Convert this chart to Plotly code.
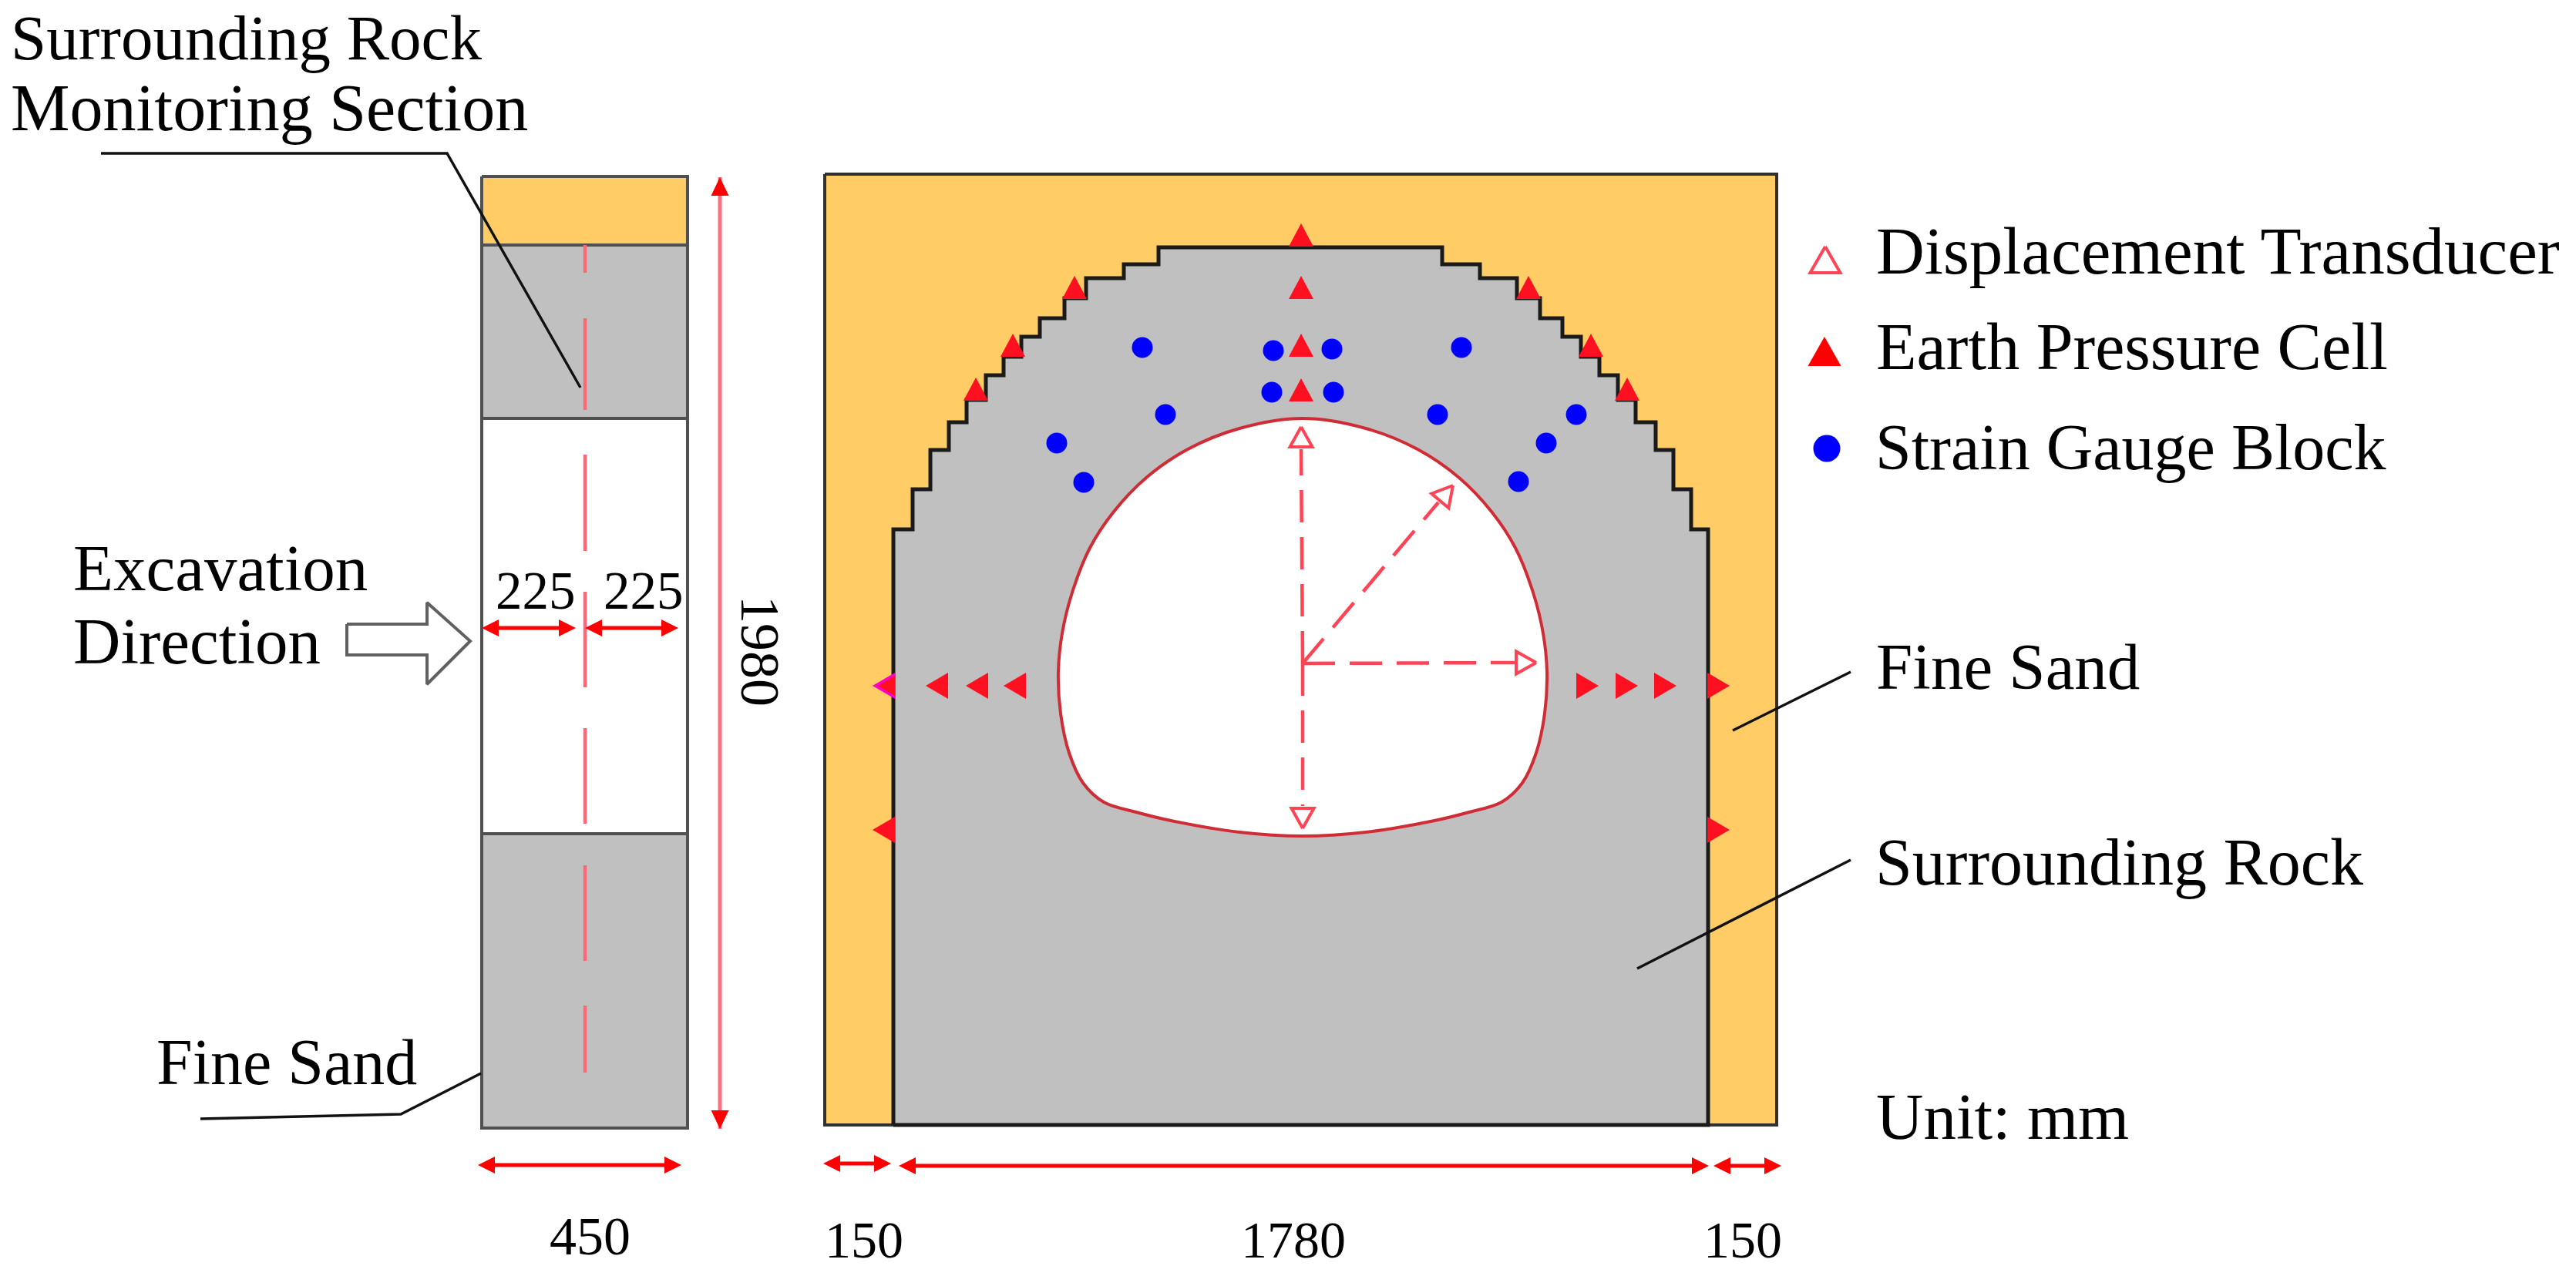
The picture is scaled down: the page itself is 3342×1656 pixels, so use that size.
import math
import plotly.graph_objects as go

W = 3342
H = 1656
SAND = "#FFCC66"
ROCK = "#C0C0C0"
RED = "#FF1020"
PINK = "#FF4455"
BLUE = "#0000FF"

# left section
sec_x = [625, 892, 892, 625, 625]
sand_top_y = [229, 229, 318, 318, 229]
rock_top_y = [318, 318, 543, 543, 318]
open_y = [543, 543, 1082, 1082, 543]
rock_low_y = [1082, 1082, 1464, 1464, 1082]
center_x = [759, 759, None, 759, 759, None, 759, 759, None, 759, 759, None, 759, 759, None, 759, 759, None, 759, 759]
center_y = [318, 354, None, 413, 532, None, 590, 715, None, 768, 892, None, 945, 1069, None, 1123, 1247, None, 1305, 1392]

# excavation arrow
dir_x = [450, 554, 554, 610, 554, 554, 450, 450]
dir_y = [810, 810, 782, 832, 888, 850, 850, 810]

# front view
box_x = [1070, 2305, 2305, 1070, 1070]
box_y = [226, 226, 1460, 1460, 226]
rock_x = [1159, 1159, 1184, 1184, 1207, 1207, 1231, 1231, 1254, 1254, 1279, 1279, 1302, 1302,
          1325, 1325, 1349, 1349, 1381, 1381, 1409, 1409, 1458, 1458, 1503, 1503, 1871, 1871,
          1920, 1920, 1968, 1968, 1998, 1998, 2027, 2027, 2051, 2051, 2075, 2075, 2099, 2099,
          2122, 2122, 2148, 2148, 2171, 2171, 2194, 2194, 2216, 2216, 1159]
rock_y = [1460, 687, 687, 635, 635, 584, 584, 548, 548, 519, 519, 487, 487, 463,
          463, 437, 437, 413, 413, 387, 387, 361, 361, 343, 343, 321, 321, 343,
          343, 361, 361, 387, 387, 413, 413, 437, 437, 463, 463, 487, 487, 519,
          519, 548, 548, 584, 584, 635, 635, 687, 687, 1460, 1460]
tunnel_x = [1690, 1608, 1541, 1487, 1445, 1414, 1391, 1378, 1373, 1376, 1387, 1405, 1432, 1474, 1519, 1608, 1690,
            1772, 1861, 1906, 1948, 1975, 1993, 2004, 2007, 2002, 1989, 1966, 1935, 1893, 1839, 1772, 1690]
tunnel_y = [543, 556, 583, 620, 664, 711, 769, 822, 872, 926, 977, 1016, 1041, 1054, 1065, 1080, 1085,
            1080, 1065, 1054, 1041, 1016, 977, 926, 872, 822, 769, 711, 664, 620, 583, 556, 543]

# gauges, triangles are given by their tips
cell_up_x = [1688, 1688, 1688, 1688, 1394, 1983, 1314, 2064, 1266, 2111]
cell_up_y = [290, 358, 433, 491, 358, 358, 433, 433, 490, 490]
cell_left_x = [1201, 1253, 1302, 1132, 1132]
cell_left_y = [890, 890, 890, 890, 1077]
cell_right_x = [2074, 2125, 2175, 2244, 2244]
cell_right_y = [890, 890, 890, 890, 1077]
block_x = [1482, 1652, 1728, 1896, 1650, 1730, 1512, 1865, 2045, 1371, 2006, 1406, 1970]
block_y = [451, 455, 453, 451, 509, 509, 538, 538, 538, 575, 575, 626, 625]

# transducers
disp_line_x = [1690, 1688, None, 1690, 1866, None, 1690, 1965, None, 1690, 1690]
disp_line_y = [861, 583, None, 861, 652, None, 861, 860, None, 861, 1046]
disp_tip_x = [1688, 1885, 1993, 1690]
disp_tip_y = [554, 630, 860, 1075]
disp_angle = [0, 40, 90, 180]

# dimension lines
dim_x0 = [625, 759, 620, 1068, 1166, 2223]
dim_x1 = [747, 880, 884, 1156, 2217, 2311]
dim_y = [815, 815, 1512, 1510, 1513, 1513]
dim_v_x = [934, 934]
dim_v_y = [230, 1465]

# leaders
lead_x = [131, 580, 753, None, 260, 520, 624, None, 2401, 2248, None, 2401, 2124]
lead_y = [199, 199, 503, None, 1452, 1446, 1393, None, 872, 948, None, 1116, 1257]

# key
key_tri_x = [2368, 2367]
key_tri_y = [320, 437]
key_dot_x = [2370]
key_dot_y = [582]

# text, x is the left edge and y the baseline
label_text = ["Surrounding Rock", "Monitoring Section", "Excavation", "Direction", "225", "225",
              "450", "Fine Sand", "150", "1780", "150"]
label_x = [12, 12, 93, 93, 641, 781, 711, 201, 1068, 1608, 2208]
label_y = [76, 168, 765, 860, 790, 790, 1628, 1406, 1631, 1631, 1631]
label_size = [83, 86, 85, 85, 69, 69, 70, 84, 68, 68, 68]
note_text = ["Displacement Transducer", "Earth Pressure Cell", "Strain Gauge Block",
             "Fine Sand", "Surrounding Rock", "Unit: mm"]
note_x = [2432, 2432, 2431, 2432, 2431, 2432]
note_y = [354, 478, 608, 893, 1147, 1477]
note_size = [87, 86, 84, 85, 86, 85]


def tri(tip_x, tip_y, angle, w, l):
    # triangles from tip, pointing angle degrees clockwise from up
    xs, ys = [], []
    for tx, ty, a in zip(tip_x, tip_y, angle):
        s, c = math.sin(math.radians(a)), math.cos(math.radians(a))
        bx, by = tx - l * s, ty + l * c
        xs += [tx, bx + w / 2 * c, bx - w / 2 * c, tx, None]
        ys += [ty, by + w / 2 * s, by - w / 2 * s, ty, None]
    return xs, ys


def add_poly(fig, x, y, fill, edge, width=3, shape="linear"):
    fig.add_trace(go.Scatter(x=x, y=y, mode="lines", fill="toself", fillcolor=fill,
                             line=dict(color=edge, width=width, shape=shape)))


def add_line(fig, x, y, color, width=3, dash="solid"):
    fig.add_trace(go.Scatter(x=x, y=y, mode="lines",
                             line=dict(color=color, width=width, dash=dash)))


def add_tri(fig, tip_x, tip_y, angle, w, l, color, edge=None, width=0):
    x, y = tri(tip_x, tip_y, angle, w, l)
    add_poly(fig, x, y, color, edge or color, width)


fig = go.Figure()

add_poly(fig, sec_x, sand_top_y, SAND, "#505050", 4)
add_poly(fig, sec_x, rock_top_y, ROCK, "#505050", 4)
add_poly(fig, sec_x, open_y, "white", "#505050", 4)
add_poly(fig, sec_x, rock_low_y, ROCK, "#505050", 4)
add_line(fig, center_x, center_y, "#FF6677", 4.5)
add_poly(fig, dir_x, dir_y, "white", "#606060", 4)

add_poly(fig, box_x, box_y, SAND, "#303030", 4)
add_poly(fig, rock_x, rock_y, ROCK, "#1A1A1A", 5)
add_poly(fig, tunnel_x, tunnel_y, "white", "#D02C36", 4, "spline")
add_line(fig, disp_line_x, disp_line_y, PINK, 4.5, "42px,19px")
add_tri(fig, disp_tip_x, disp_tip_y, disp_angle, 29, 26, "white", PINK, 4)

add_line(fig, lead_x, lead_y, "#111111", 3.5)

add_tri(fig, cell_up_x, cell_up_y, [0] * len(cell_up_x), 32, 30, RED)
add_tri(fig, [1132], [890], [270], 34, 29, "#FF00CC")
add_tri(fig, [1139], [890], [270], 26, 22, RED)
add_tri(fig, cell_left_x[:3] + cell_left_x[4:], cell_left_y[:3] + cell_left_y[4:], [270] * 4, 34, 29, RED)
add_tri(fig, cell_right_x, cell_right_y, [90] * 5, 34, 29, RED)
fig.add_trace(go.Scatter(x=block_x, y=block_y, mode="markers",
                         marker=dict(symbol="circle", size=27, color=BLUE)))

for x0, x1, y in zip(dim_x0, dim_x1, dim_y):
    add_line(fig, [x0 + 10, x1 - 10], [y, y], "#FF0000", 5)
    add_tri(fig, [x0, x1], [y, y], [270, 90], 22, 22, "#FF0000")
add_line(fig, dim_v_x, dim_v_y, "#FF7080", 5)
add_tri(fig, dim_v_x, dim_v_y, [0, 180], 23, 24, "#FF0000")

add_tri(fig, key_tri_x[:1], key_tri_y[:1], [0], 39, 34, "white", PINK, 4)
add_tri(fig, key_tri_x[1:], key_tri_y[1:], [0], 43, 38, "#FF0000")
fig.add_trace(go.Scatter(x=key_dot_x, y=key_dot_y, mode="markers",
                         marker=dict(symbol="circle", size=35, color=BLUE)))

for t, x, y, s in zip(label_text, label_x, label_y, label_size):
    fig.add_annotation(x=x, y=y - 0.33 * s, text=t, showarrow=False, xanchor="left", yanchor="middle",
                       font=dict(family="Liberation Serif", size=s, color="black"))
fig.add_annotation(x=986, y=845, text="1980", showarrow=False, textangle=90,
                   font=dict(family="Liberation Serif", size=72, color="black"))
for t, x, y, s in zip(note_text, note_x, note_y, note_size):
    fig.add_annotation(x=x, y=y - 0.33 * s, text=t, showarrow=False, xanchor="left", yanchor="middle",
                       font=dict(family="Liberation Serif", size=s, color="black"))

fig.update_xaxes(range=[0, W], visible=False)
fig.update_yaxes(range=[H, 0], visible=False)
fig.update_layout(width=W, height=H, margin=dict(l=0, r=0, t=0, b=0),
                  showlegend=False, paper_bgcolor="white", plot_bgcolor="white")

# the page's default body margin would push the figure 8px in
fig.write_html("out.html", config={"displayModeBar": False},
               post_script="document.body.style.margin='0';")
